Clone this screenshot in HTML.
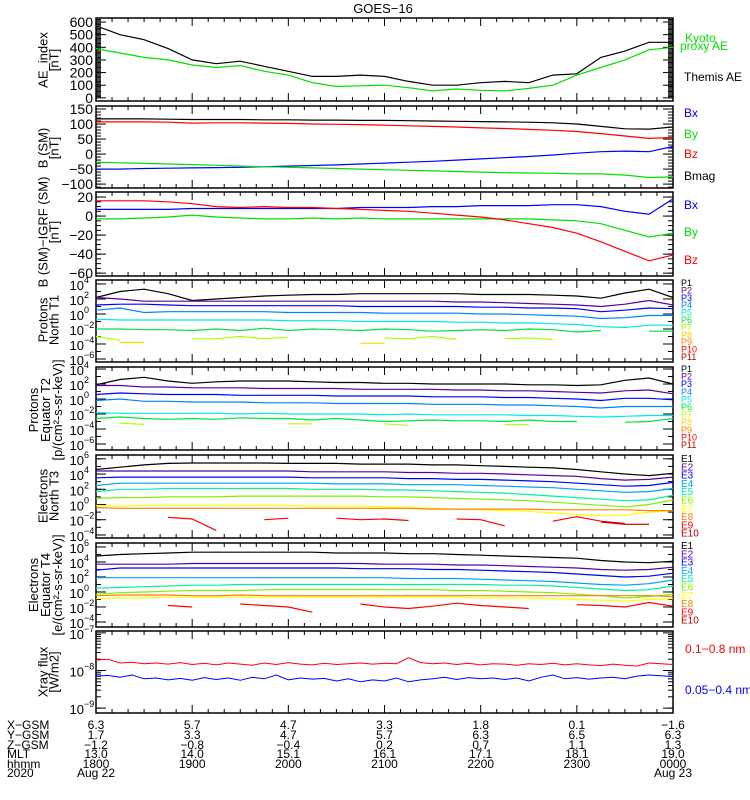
<!DOCTYPE html>
<html><head><meta charset="utf-8">
<style>
html,body{margin:0;padding:0;background:#fff;}
svg{display:block;font-family:"Liberation Sans",sans-serif;}
</style></head>
<body>
<svg id="chart" width="750" height="800" viewBox="0 0 750 800" xmlns="http://www.w3.org/2000/svg">
<text x="383" y="13" font-size="13" text-anchor="middle">GOES−16</text>
</svg>
<script>
// ---------- DATA ----------
// common 15-minute time grid (hours after 18:00)
const tGrid = [0,0.25,0.5,0.75,1,1.25,1.5,1.75,2,2.25,2.5,2.75,3,3.25,3.5,3.75,4,4.25,4.5,4.75,5,5.25,5.5,5.75,6];
const hourLabels = ["1800","1900","2000","2100","2200","2300","0000"];
const xgsm = ["6.3","5.7","4.7","3.3","1.8","0.1","−1.6"];
const ygsm = ["1.7","3.3","4.7","5.7","6.3","6.5","6.3"];
const zgsm = ["−1.2","−0.8","−0.4","0.2","0.7","1.1","1.3"];
const mlt = ["13.0","14.0","15.1","16.1","17.1","18.1","19.0"];
const dateLabels = ["Aug 22","","","","","","Aug 23"];

// Panel 1: AE
const aeThemis = [570,500,460,390,300,270,290,250,210,170,170,180,170,130,100,100,120,130,120,180,190,320,370,440,440];
const aeKyoto = [390,355,320,300,260,240,255,210,180,120,90,95,100,80,55,70,60,55,75,100,180,240,300,380,400];
// Panel 2: B (SM)
const bBx = [-50,-50,-48,-47,-46,-45,-44,-42,-40,-38,-36,-33,-30,-27,-24,-20,-16,-12,-8,-3,3,8,10,8,25];
const bBy = [-27,-29,-31,-33,-35,-37,-40,-42,-44,-46,-48,-50,-52,-54,-56,-58,-60,-62,-63,-64,-66,-66,-70,-78,-76];
const bBz = [107,107,107,106,103,104,104,103,102,100,99,98,96,94,92,90,87,85,82,79,75,68,60,52,55];
const bMag = [117,117,117,116,115,115,115,114,114,113,113,112,112,111,110,109,108,107,106,104,100,92,84,83,90];
// Panel 3: B - IGRF
const dBx = [7,7,7,7,8,8,8,8,8,8,8,9,9,9,10,10,11,11,11,12,12,10,5,2,18];
const dBy = [-3,-3,-2,-1,1,-1,-2,-3,-3,-2,-3,-2,-3,-3,-3,-3,-3,-3,-3,-4,-5,-8,-15,-22,-18];
const dBz = [16,16,16,15,13,10,9,10,9,9,8,7,6,5,3,1,-1,-4,-8,-12,-18,-27,-37,-47,-41];
// Panel 4: protons T1 (log10 flux)
const t1P1 = [2.2,3.0,3.3,2.7,1.8,2.0,2.2,2.4,2.5,2.6,2.6,2.7,2.7,2.7,2.7,2.7,2.6,2.6,2.6,2.5,2.4,2.1,2.8,3.3,2.2];
const t1P2 = [2.2,2.0,1.7,1.7,1.7,1.7,1.7,1.7,1.7,1.7,1.7,1.7,1.7,1.7,1.7,1.6,1.6,1.5,1.4,1.3,1.2,1.0,1.3,1.8,1.2];
const t1P3 = [1.2,1.3,1.3,1.2,1.1,1.1,1.1,1.1,1.1,1.1,1.1,1.0,1.0,1.0,1.0,1.0,0.9,0.9,0.8,0.8,0.7,0.3,0.5,0.8,0.7];
const t1P4 = [0.5,0.8,0.2,0.3,0.3,0.3,0.3,0.3,0.2,0.2,0.2,0.2,0.1,0.1,0.1,0.1,0.0,0.0,-0.1,-0.2,-0.3,-0.6,-0.5,-0.2,-0.2];
const t1P5 = [-0.7,-0.8,-0.8,-0.8,-0.8,-0.8,-0.8,-0.8,-0.9,-0.9,-0.9,-1.0,-1.0,-1.0,-1.0,-1.1,-1.1,-1.2,-1.2,-1.3,-1.4,-1.7,-1.8,-1.5,-1.5];
const t1P6 = [-2.0,-2.0,-2.1,-2.1,-2.2,-2.0,-2.2,-1.9,-2.2,-2.0,-2.1,-2.2,-2.0,-2.1,-2.3,-2.2,-2.1,-2.2,-2.0,-2.1,-2.4,-2.2,null,-2.3,-2.3];
const t1P7 = [-3.0,-3.5,null,null,-3.3,-3.3,-3.0,-3.3,-3.1,null,-3.3,null,-3.2,-3.3,-3.0,-3.4,null,-3.3,-3.2,-3.4,null,null,null,-3.3,null];
const t1P8 = [null,-3.8,-3.8,null,null,null,null,null,null,null,null,-3.9,-3.9,null,null,null,null,null,null,null,null,null,null,null,null];
// Panel 5: protons T2
const t2P1 = [1.9,2.6,2.9,2.4,2.1,2.3,2.4,2.4,2.4,2.3,2.2,2.2,2.1,2.1,2.0,2.0,2.0,2.0,1.9,1.9,1.8,1.9,2.5,2.8,2.0];
const t2P2 = [1.8,1.8,1.6,1.6,1.5,1.5,1.5,1.4,1.4,1.4,1.4,1.3,1.3,1.3,1.3,1.2,1.2,1.1,1.1,1.0,0.9,0.8,1.1,1.2,0.7];
const t2P3 = [0.6,0.8,0.7,0.6,0.6,0.6,0.5,0.5,0.5,0.5,0.4,0.4,0.4,0.4,0.3,0.3,0.3,0.2,0.2,0.1,0.0,-0.2,0.1,0.1,-0.1];
const t2P4 = [-0.2,0.0,-0.3,-0.3,-0.4,-0.4,-0.4,-0.5,-0.5,-0.5,-0.6,-0.6,-0.6,-0.6,-0.7,-0.7,-0.7,-0.8,-0.8,-0.9,-1.0,-1.2,-1.0,-1.0,-1.0];
const t2P5 = [-1.8,-1.9,-1.9,-1.9,-1.9,-1.9,-2.0,-1.9,-2.0,-2.0,-2.0,-2.0,-2.1,-2.0,-2.1,-2.1,-2.1,-2.1,-2.2,-2.2,-2.3,-2.4,-2.3,-2.2,-2.2];
const t2P6 = [-2.6,-2.4,-2.6,-2.7,-2.6,-2.7,-2.5,-2.6,-2.6,-2.8,-2.6,-2.8,-3.0,-2.9,-2.8,-2.9,-2.9,-3.0,-2.8,-3.0,-3.0,null,-3.1,-3.0,-2.6];
const t2P7 = [null,-3.2,-3.4,null,null,null,null,null,-3.3,-3.3,null,null,-3.3,-3.5,null,null,null,-3.4,-3.4,null,null,null,null,null,null];
// Panel 6: electrons T3
const t3E1 = [4.6,4.9,5.2,5.4,5.45,5.45,5.45,5.45,5.4,5.4,5.4,5.3,5.3,5.3,5.2,5.2,5.1,5.0,4.9,4.8,4.6,4.3,4.0,3.8,4.1];
const t3E2 = [4.4,4.4,4.4,4.4,4.4,4.4,4.4,4.4,4.4,4.3,4.3,4.3,4.3,4.2,4.2,4.1,4.1,4.0,3.9,3.8,3.7,3.4,3.2,3.3,3.6];
const t3E3 = [3.5,3.6,3.6,3.6,3.6,3.6,3.6,3.6,3.6,3.5,3.5,3.5,3.5,3.4,3.4,3.3,3.3,3.2,3.1,3.0,2.8,2.6,2.4,2.5,2.9];
const t3E4 = [2.5,2.8,2.8,2.8,2.8,2.8,2.8,2.8,2.8,2.8,2.7,2.7,2.7,2.6,2.6,2.6,2.5,2.4,2.3,2.2,2.0,1.8,1.6,1.7,2.1];
const t3E5 = [1.7,2.0,2.0,2.1,2.1,2.1,2.1,2.1,2.1,2.0,2.0,2.0,1.9,1.9,1.8,1.7,1.6,1.5,1.3,1.1,0.9,0.7,0.5,0.6,1.2];
const t3E6 = [0.8,0.9,0.9,1.0,1.0,1.0,1.1,1.1,1.1,1.1,1.1,1.1,1.0,1.0,0.9,0.8,0.7,0.6,0.5,0.3,0.1,-0.1,-0.3,0.0,0.6];
const t3E7 = [-0.1,-0.2,-0.1,-0.1,-0.1,-0.1,-0.1,-0.1,-0.1,-0.2,-0.2,-0.2,-0.3,-0.4,-0.5,-0.6,-0.7,-0.8,-0.9,-1.1,-1.3,-1.5,-1.4,-1.0,-0.8];
const t3E8 = [-0.4,-0.5,-0.5,-0.5,-0.5,-0.5,-0.5,-0.5,-0.5,-0.5,-0.5,-0.5,-0.5,-0.5,-0.6,-0.6,-0.6,-0.6,-0.6,-0.7,-0.7,-0.7,-0.7,-0.8,-0.8];
const t3E9 = [-2.1,null,null,-1.7,-1.9,-3.4,null,-2.0,-1.8,null,-1.8,-2.0,-1.9,-2.1,null,-1.9,-2.0,-2.8,null,-2.2,-1.6,-2.2,-2.5,null,-1.8];
const t3E10 = [null,null,null,null,null,null,null,null,null,null,null,null,null,null,null,null,null,null,null,null,null,-2.3,-2.6,-2.6,null];
// Panel 7: electrons T4
const t4E1 = [4.8,5.0,5.1,5.2,5.3,5.3,5.3,5.3,5.3,5.3,5.2,5.2,5.2,5.1,5.1,5.0,4.9,4.8,4.7,4.6,4.5,4.2,4.0,3.9,4.1];
const t4E2 = [3.7,3.7,3.7,3.7,3.8,3.8,3.8,3.8,3.8,3.8,3.8,3.8,3.7,3.7,3.7,3.6,3.6,3.5,3.4,3.3,3.2,3.0,2.9,3.0,3.3];
const t4E3 = [2.9,3.2,3.2,3.2,3.2,3.2,3.2,3.2,3.2,3.2,3.2,3.1,3.1,3.1,3.0,3.0,2.9,2.8,2.7,2.6,2.4,2.2,2.0,2.1,2.5];
const t4E4 = [1.9,1.9,1.9,1.9,1.9,1.9,1.9,1.9,1.9,1.9,1.9,1.9,1.9,1.8,1.8,1.8,1.7,1.6,1.5,1.4,1.2,1.0,0.9,1.1,1.6];
const t4E5 = [0.5,0.6,0.7,0.8,0.9,0.9,1.0,1.0,1.0,1.0,1.0,1.0,1.0,1.0,1.0,1.0,1.0,0.9,0.9,0.8,0.6,0.4,0.2,0.3,0.8];
const t4E6 = [-0.3,-0.1,0.0,0.1,0.2,0.2,0.2,0.3,0.3,0.3,0.3,0.3,0.3,0.3,0.3,0.2,0.2,0.1,0.0,-0.1,-0.3,-0.5,-0.8,-0.6,-0.3];
const t4E7 = [-0.9,-0.8,-0.8,-0.7,-0.7,-0.7,-0.7,-0.7,-0.7,-0.7,-0.7,-0.7,-0.7,-0.7,-0.7,-0.7,-0.8,-0.8,-0.8,-0.9,-1.0,-1.1,-1.2,-1.0,-0.9];
const t4E8 = [-0.5,-0.4,-0.4,-0.4,-0.5,-0.5,-0.4,-0.5,-0.5,-0.5,-0.5,-0.5,-0.5,-0.5,-0.5,-0.5,-0.5,-0.5,-0.5,-0.5,-0.5,-0.5,-0.5,-0.5,-0.6];
const t4E9 = [null,null,null,-1.8,-2.0,null,-1.6,-1.8,-2.0,-2.7,null,-1.6,-2.0,-2.2,-1.9,-1.5,-1.8,-2.0,-2.2,null,-1.7,-1.8,-2.0,-1.4,-1.9];
// Panel 8: X-ray (log10 W/m2), evenly spaced over 6 h
const xrLong = [-7.72,-7.70,-7.80,-7.78,-7.82,-7.80,-7.83,-7.79,-7.84,-7.81,-7.85,-7.80,-7.83,-7.86,-7.80,-7.84,-7.79,-7.83,-7.85,-7.81,-7.84,-7.82,-7.80,-7.83,-7.81,-7.82,-7.66,-7.79,-7.82,-7.80,-7.84,-7.81,-7.85,-7.82,-7.83,-7.86,-7.82,-7.84,-7.81,-7.85,-7.82,-7.85,-7.87,-7.83,-7.86,-7.88,-7.80,-7.82,-7.84];
const xrShort = [-8.15,-8.13,-8.18,-8.12,-8.22,-8.20,-8.25,-8.21,-8.26,-8.19,-8.24,-8.20,-8.26,-8.18,-8.22,-8.12,-8.25,-8.20,-8.23,-8.21,-8.28,-8.22,-8.30,-8.25,-8.28,-8.20,-8.30,-8.25,-8.22,-8.18,-8.24,-8.19,-8.22,-8.20,-8.24,-8.20,-8.28,-8.18,-8.12,-8.22,-8.19,-8.23,-8.20,-8.18,-8.22,-8.15,-8.12,-8.14,-8.16];

// ---------- RENDER ----------
const svg = document.getElementById('chart');
const NS = 'http://www.w3.org/2000/svg';
const X0 = 96, X1 = 673;
const xScale = t => X0 + (t / 6) * (X1 - X0);
function mk(tag, attrs, parent) {
  const e = document.createElementNS(NS, tag);
  for (const k in attrs) e.setAttribute(k, attrs[k]);
  (parent || svg).appendChild(e);
  return e;
}
const panels = [];
function panel(name, y0, y1, dmin, dmax) {
  const g = mk('g', {});
  
  
  const yS = v => y1 - (v - dmin) / (dmax - dmin) * (y1 - y0);
  const frame = mk('rect', {x: X0, y: y0, width: X1 - X0, height: y1 - y0, fill: 'none', stroke: '#000', 'stroke-width': 1.5}, g);
  
  
  // time ticks
  for (let m = 0; m <= 360; m += 10) {
    const x = xScale(m / 60);
    const len = m % 60 === 0 ? 8 : 4;
    mk('line', {x1: x, x2: x, y1: y1, y2: y1 - len, stroke: '#000'}, g);
    mk('line', {x1: x, x2: x, y1: y0, y2: y0 + len, stroke: '#000'}, g);
  }
  return {g, yS, y0, y1};
}
function yTicks(p, majors, minors, labelFn) {
  const ax = mk('g', {}, p.g);
  
  
  minors.forEach(v => {
    const y = p.yS(v);
    if (y < p.y0 || y > p.y1) return;
    mk('line', {x1: X0, x2: X0 + 5, y1: y, y2: y, stroke: '#000'}, ax);
    mk('line', {x1: X1, x2: X1 - 5, y1: y, y2: y, stroke: '#000'}, ax);
  });
  majors.forEach(v => {
    const y = p.yS(v);
    mk('line', {x1: X0, x2: X0 + 10, y1: y, y2: y, stroke: '#000'}, ax);
    mk('line', {x1: X1, x2: X1 - 10, y1: y, y2: y, stroke: '#000'}, ax);
    labelFn(ax, v, y);
  });
}
function numLabel(ax, v, y) {
  const t = mk('text', {x: X0 - 3, y: y + 5, 'font-size': 14, 'text-anchor': 'end'}, ax);
  t.textContent = String(v).replace('-', '−');
}
function logLabel(ax, v, y) {
  const t = mk('text', {x: X0 - 12, y: y + 6, 'font-size': 13, 'text-anchor': 'end'}, ax);
  t.textContent = '10';
  const s = mk('text', {x: X0 - 12, y: y - 1, 'font-size': 9, 'text-anchor': 'start'}, ax);
  s.textContent = String(v).replace('-', '−');
}
function series(p, name, times, vals, color, w) {
  let d = '', pen = false;
  vals.forEach((v, i) => {
    if (v === null) { pen = false; return; }
    const x = xScale(times[i]).toFixed(1), y = p.yS(v).toFixed(1);
    d += (pen ? 'L' : 'M') + x + ',' + y;
    pen = true;
  });
  const path = mk('path', {d, fill: 'none', stroke: color, 'stroke-width': w || 1.2}, p.g);
  
  
}
function yTitle(lines, yc, parent) {
  lines.forEach((s, i) => {
    const x = 53 + i * 11 - (lines.length - 1) * 5.5 + (lines.length === 3 ? -4 : 0);
    const t = mk('text', {x: 0, y: 0, 'font-size': 13, 'text-anchor': 'middle', transform: `translate(${x + (lines.length===3?i*1:0)},${yc}) rotate(-90)`}, parent);
    
    
    t.textContent = s;
  });
}
function legend(items, parent) {
  items.forEach(([txt, color, x, y, fs]) => {
    const t = mk('text', {x, y, fill: color, 'font-size': fs || 12}, parent);
    
    
    t.textContent = txt;
  });
}
function range(a, b, s) { const r = []; for (let v = a; v <= b + 1e-9; v += s) r.push(+v.toFixed(6)); return r; }
function logMinors(a, b) { const r = []; for (let e = a; e < b; e++) for (let k = 1; k < 10; k++) r.push(e + Math.log10(k)); return r; }
const purple = '#5a00a0', pCols = ['#000','#5a00a0','#0000ff','#0080ff','#00e8e8','#00e040','#b0ff00','#ffd000','#ff8000','#ff0000','#b00000'];
const eCols = ['#000','#5a00a0','#0000ff','#00a0ff','#00f0a0','#80f000','#ffff00','#ff8000','#ff0000','#b00000'];

// Panel 1
let p = panel('ae-index-panel', 18, 101, -25, 632);
yTicks(p, [0,100,200,300,400,500,600], range(0, 620, 10), numLabel);
series(p, 'themis-ae-line', tGrid, aeThemis, '#000');
series(p, 'kyoto-proxy-ae-line', tGrid, aeKyoto, '#00e000');
yTitle(['AE_index', '[nT]'], 60, p.g);
legend([['Kyoto', '#00e000', 685, 42], ['proxy AE', '#00e000', 680, 50], ['Themis AE', '#000', 684, 81]], p.g);

// Panel 2
p = panel('b-sm-panel', 106, 188, -113, 160);
yTicks(p, [-100,-50,0,50,100,150], range(-110, 160, 10), numLabel);
series(p, 'bmag-line', tGrid, bMag, '#000');
series(p, 'bz-line', tGrid, bBz, '#ff0000');
series(p, 'bx-line', tGrid, bBx, '#0000ff');
series(p, 'by-line', tGrid, bBy, '#00e000');
yTitle(['B (SM)', '[nT]'], 148, p.g);
legend([['Bx', '#0000ff', 684, 117], ['By', '#00e000', 684, 138], ['Bz', '#ff0000', 684, 158], ['Bmag', '#000', 684, 180]], p.g);

// Panel 3
p = panel('b-igrf-panel', 192, 276, -63, 25.3);
yTicks(p, [-60,-40,-20,0,20], range(-60, 24, 5), numLabel);
series(p, 'dbx-line', tGrid, dBx, '#0000ff');
series(p, 'dby-line', tGrid, dBy, '#00e000');
series(p, 'dbz-line', tGrid, dBz, '#ff0000');
yTitle(['B (SM)−IGRF (SM)', '[nT]'], 232, p.g);
legend([['Bx', '#0000ff', 684, 209], ['By', '#00e000', 684, 236], ['Bz', '#ff0000', 684, 264]], p.g);

// Panel 4
p = panel('protons-north-t1-panel', 280, 362, -6.4, 4.53);
yTicks(p, [-6,-4,-2,0,2,4], range(-6, 4, 1), logLabel);
[t1P1,t1P2,t1P3,t1P4,t1P5,t1P6,t1P7,t1P8].forEach((s, i) => series(p, 'p' + (i + 1) + '-t1-line', tGrid, s, pCols[i]));
yTitle(['Protons', 'North T1'], 320, p.g);
legend(pCols.map((c, i) => ['P' + (i + 1), c, 681, 286 + i * 7.4, 9]), p.g);

// Panel 5
p = panel('protons-equator-t2-panel', 367, 450, -6.8, 4.27);
yTicks(p, [-6,-4,-2,0,2,4], range(-6, 4, 1), logLabel);
[t2P1,t2P2,t2P3,t2P4,t2P5,t2P6,t2P7].forEach((s, i) => series(p, 'p' + (i + 1) + '-t2-line', tGrid, s, pCols[i]));
yTitle(['Protons', 'Equator T2', '[p/(cm²-s-sr-keV)]'], 410, p.g);
legend(pCols.map((c, i) => ['P' + (i + 1), c, 681, 372 + i * 7.6, 9]), p.g);

// Panel 6
p = panel('electrons-north-t3-panel', 455, 538, -4.4, 6.5);
yTicks(p, [-4,-2,0,2,4,6], range(-4, 6, 1), logLabel);
[t3E1,t3E2,t3E3,t3E4,t3E5,t3E6,t3E7,t3E8,t3E9,t3E10].forEach((s, i) => series(p, 'e' + (i + 1) + '-t3-line', tGrid, s, eCols[i]));
yTitle(['Electrons', 'North T3'], 496, p.g);
legend(eCols.map((c, i) => ['E' + (i + 1), c, 681, 462 + i * 8.3, 10]), p.g);

// Panel 7
p = panel('electrons-equator-t4-panel', 543, 627, -4.67, 6.53);
yTicks(p, [-4,-2,0,2,4,6], range(-4, 6, 1), logLabel);
[t4E1,t4E2,t4E3,t4E4,t4E5,t4E6,t4E7,t4E8,t4E9].forEach((s, i) => series(p, 'e' + (i + 1) + '-t4-line', tGrid, s, eCols[i]));
yTitle(['Electrons', 'Equator T4', '[e/(cm²-s-sr-keV)]'], 585, p.g);
legend(eCols.map((c, i) => ['E' + (i + 1), c, 681, 549 + i * 8.3, 10]), p.g);

// Panel 8
p = panel('xray-flux-panel', 631, 713, -9.13, -6.95);
yTicks(p, [-9,-8,-7], logMinors(-9, -7), logLabel);
const xrT = xrLong.map((_, i) => i * 6 / (xrLong.length - 1));
const xsT = xrShort.map((_, i) => i * 6 / (xrShort.length - 1));
series(p, 'xray-long-line', xrT, xrLong, '#ff0000', 1);
series(p, 'xray-short-line', xsT, xrShort, '#0000ff', 1);
yTitle(['Xray flux', '[W/m2]'], 672, p.g);
legend([['0.1−0.8 nm', '#ff0000', 685, 653], ['0.05−0.4 nm', '#0000ff', 685, 694, 12]], p.g);

// Bottom annotation rows
const rowNames = ['X-GSM','Y-GSM','Z-GSM','MLT','hhmm','2020'];
const rows = [xgsm, ygsm, zgsm, mlt, hourLabels, dateLabels];
const rowY = [729, 739, 749, 758, 768, 777];
const ann = mk('g', {});


rowNames.forEach((n, r) => {
  const t = mk('text', {x: 7, y: rowY[r], 'font-size': 12}, ann);
  t.textContent = n.replace('-', '−');
  rows[r].forEach((v, i) => {
    if (!v) return;
    const tt = mk('text', {x: xScale(i), y: rowY[r], 'font-size': 12, 'text-anchor': 'middle'}, ann);
    
    
    tt.textContent = v;
  });
});
</script>
</body></html>
